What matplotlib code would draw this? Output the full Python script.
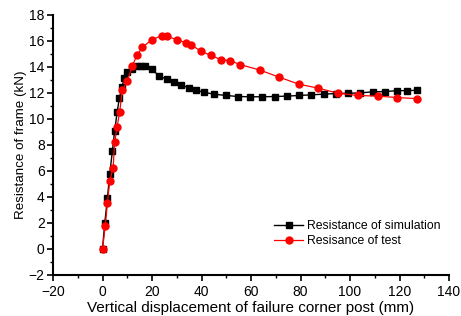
import matplotlib
matplotlib.use("Agg")
import matplotlib.pyplot as plt
from matplotlib.ticker import MultipleLocator

plt.rcParams['font.family'] = ['Liberation Sans', 'DejaVu Sans']

# simulation (black squares)
sim_x = [0, 0.9, 2.0, 2.9, 4.0, 4.9, 5.9, 6.8, 7.9, 8.8, 9.9, 12.1, 13.9, 15.6, 17.2,
         20.0, 22.9, 25.9, 28.8, 31.9, 34.8, 37.9, 40.9, 45.0, 49.9, 54.8, 59.6,
         64.5, 69.6, 74.5, 79.5, 84.4, 89.3, 94.3, 99.2, 104.1, 109.2, 114.1,
         119.1, 122.9, 126.9]
sim_y = [0, 1.97, 3.9, 5.75, 7.54, 9.08, 10.5, 11.6, 12.46, 13.15, 13.6, 13.8, 14.1,
         14.1, 14.1, 13.8, 13.3, 13.05, 12.8, 12.6, 12.4, 12.2, 12.05, 11.9, 11.8,
         11.72, 11.7, 11.7, 11.72, 11.75, 11.8, 11.85, 11.9, 11.95, 11.97, 12.0,
         12.08, 12.1, 12.17, 12.17, 12.2]

# test (red circles)
test_x = [0, 1.1, 2.0, 2.9, 4.3, 4.9, 5.9, 6.9, 8.0, 10.0, 12.0, 13.9, 16.1, 20.0,
          24.0, 25.9, 29.9, 33.9, 35.9, 39.7, 43.7, 47.7, 51.5, 55.6, 63.6, 71.5,
          79.3, 87.2, 95.2, 103.2, 111.2, 119.1, 126.9]
test_y = [0, 1.77, 3.54, 5.2, 6.26, 8.2, 9.4, 10.5, 12.2, 12.9, 14.05, 14.9, 15.5,
          16.1, 16.4, 16.36, 16.1, 15.85, 15.7, 15.2, 14.9, 14.56, 14.48, 14.18,
          13.75, 13.2, 12.67, 12.36, 11.97, 11.8, 11.75, 11.64, 11.56]

fig = plt.figure(figsize=(4.61, 3.16), dpi=100)
ax = fig.add_axes([0.115, 0.130, 0.859, 0.823])

ax.plot(sim_x, sim_y, color='black', marker='s', markersize=4.5, linewidth=1,
        label='Resistance of simulation')
ax.plot(test_x, test_y, color='red', marker='o', markersize=5, linewidth=0.9,
        label='Resisance of test')

ax.set_xlim(-20, 140)
ax.set_ylim(-2, 18)
ax.xaxis.set_major_locator(MultipleLocator(20))
ax.xaxis.set_minor_locator(MultipleLocator(10))
ax.yaxis.set_major_locator(MultipleLocator(2))
ax.yaxis.set_minor_locator(MultipleLocator(1))

ax.spines['top'].set_visible(False)
ax.spines['right'].set_visible(False)
ax.spines['left'].set_linewidth(1.5)
ax.spines['bottom'].set_linewidth(1.5)
ax.tick_params(which='major', direction='out', length=4, width=1.2, labelsize=10)
ax.tick_params(axis='y', which='major', pad=2)
ax.tick_params(which='minor', direction='out', length=2, width=1)

ax.set_xlabel('Vertical displacement of failure corner post (mm)', fontsize=11, labelpad=1)
ax.set_ylabel('Resistance of frame (kN)', fontsize=9.6, labelpad=1)

ax.legend(loc='lower right', bbox_to_anchor=(1.0, 0.075), frameon=False, fontsize=8.8,
          handlelength=2.4, handletextpad=0.3, labelspacing=0.2, borderaxespad=0.3)

fig.savefig('out.png', dpi=100)
